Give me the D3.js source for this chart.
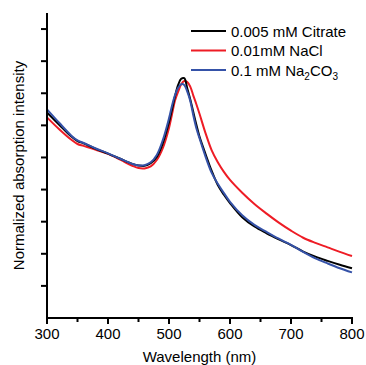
<!DOCTYPE html>
<html><head><meta charset="utf-8">
<script src="https://cdn.jsdelivr.net/npm/d3@7"></script>
<style>body{margin:0;background:#fff}svg{display:block}text{font-family:"Liberation Sans",Arial,sans-serif}</style>
</head><body>
<script>
const wavelengths = [300,320,340,350,360,380,400,420,440,450,460,470,480,490,500,505,510,515,520,525,530,535,540,545,550,560,570,580,590,600,620,640,660,680,700,720,740,760,780,800];
const citrate = [6.40,6.02,5.65,5.51,5.44,5.27,5.12,4.96,4.80,4.75,4.74,4.82,5.02,5.45,6.10,6.50,6.92,7.26,7.45,7.47,7.15,6.80,6.40,6.01,5.65,5.10,4.58,4.14,3.84,3.58,3.14,2.85,2.64,2.45,2.27,2.07,1.91,1.78,1.66,1.55];
const nacl = [6.25,5.88,5.55,5.42,5.36,5.24,5.11,4.93,4.74,4.67,4.66,4.72,4.92,5.30,5.92,6.35,6.78,7.05,7.28,7.38,7.35,7.20,6.92,6.65,6.36,5.75,5.22,4.85,4.55,4.30,3.90,3.55,3.25,2.97,2.72,2.50,2.34,2.20,2.06,1.93];
const na2co3 = [6.50,6.08,5.68,5.53,5.45,5.28,5.13,4.96,4.80,4.75,4.76,4.85,5.08,5.55,6.22,6.62,6.95,7.17,7.28,7.26,7.05,6.75,6.30,5.90,5.60,5.02,4.52,4.18,3.89,3.62,3.20,2.90,2.68,2.47,2.28,2.06,1.86,1.70,1.55,1.42];
const xTicks = [300,400,500,600,700,800];
const xMinorTicks = [350,450,550,650,750];
const yTicks = [1,2,3,4,5,6,7,8,9];
const seriesNames = ["0.005 mM Citrate","0.01mM NaCl","0.1 mM Na2CO3"];
const seriesColors = ["#000000","#ee1c25","#3552a8"];

const W=366,H=365;
const svg=d3.select("body").append("svg").attr("width",W).attr("height",H);
const x=d3.scaleLinear().domain([300,800]).range([47,352]);
const y=d3.scaleLinear().domain([0,9.5]).range([318,13]);

const line=d3.line().x((d,i)=>x(wavelengths[i])).y(d=>y(d)).curve(d3.curveCatmullRom.alpha(0.5));
const series=[{v:nacl,c:seriesColors[1]},{v:citrate,c:seriesColors[0]},{v:na2co3,c:seriesColors[2]}];
series.forEach(s=>{
  svg.append("path").attr("d",line(s.v)).attr("fill","none").attr("stroke",s.c).attr("stroke-width",2);
});

// axes
svg.append("line").attr("x1",x(300)).attr("x2",x(300)).attr("y1",y(9.5)).attr("y2",y(0)+1).attr("stroke","#000").attr("stroke-width",2);
svg.append("line").attr("x1",x(300)-1).attr("x2",x(800)+1).attr("y1",y(0)).attr("y2",y(0)).attr("stroke","#000").attr("stroke-width",2);
svg.selectAll(".yt").data(yTicks).enter().append("line").attr("x1",x(300)-6).attr("x2",x(300)).attr("y1",d=>y(d)).attr("y2",d=>y(d)).attr("stroke","#000").attr("stroke-width",2);
svg.selectAll(".xt").data(xTicks).enter().append("line").attr("x1",d=>x(d)).attr("x2",d=>x(d)).attr("y1",y(0)).attr("y2",y(0)+6).attr("stroke","#000").attr("stroke-width",2);
svg.selectAll(".xm").data(xMinorTicks).enter().append("line").attr("x1",d=>x(d)).attr("x2",d=>x(d)).attr("y1",y(0)).attr("y2",y(0)+4).attr("stroke","#000").attr("stroke-width",2);
svg.selectAll(".xl").data(xTicks).enter().append("text").attr("x",d=>x(d)).attr("y",339).attr("text-anchor","middle").attr("font-size",15).text(d=>d);
svg.append("text").attr("x",(x(300)+x(800))/2).attr("y",362).attr("text-anchor","middle").attr("font-size",15).text("Wavelength (nm)");
svg.append("text").attr("transform",`translate(24,${(y(0)+y(9.5))/2}) rotate(-90)`).attr("text-anchor","middle").attr("font-size",15).text("Normalized absorption intensity");

// legend
const lg=[{n:seriesNames[0],c:seriesColors[0]},{n:seriesNames[1],c:seriesColors[1]},{n:seriesNames[2],c:seriesColors[2]}];
lg.forEach((d,i)=>{
  const yy=31+i*19.5;
  svg.append("line").attr("x1",191).attr("x2",226).attr("y1",yy).attr("y2",yy).attr("stroke",d.c).attr("stroke-width",2);
  const t=svg.append("text").attr("x",231).attr("y",yy+5.5).attr("font-size",15);
  if(i===2){
    t.append("tspan").text("0.1 mM Na");
    t.append("tspan").attr("font-size",10).attr("dy",4).text("2");
    t.append("tspan").attr("dy",-4).text("CO");
    t.append("tspan").attr("font-size",10).attr("dy",4).text("3");
  } else t.text(d.n);
});
</script>
</body></html>
